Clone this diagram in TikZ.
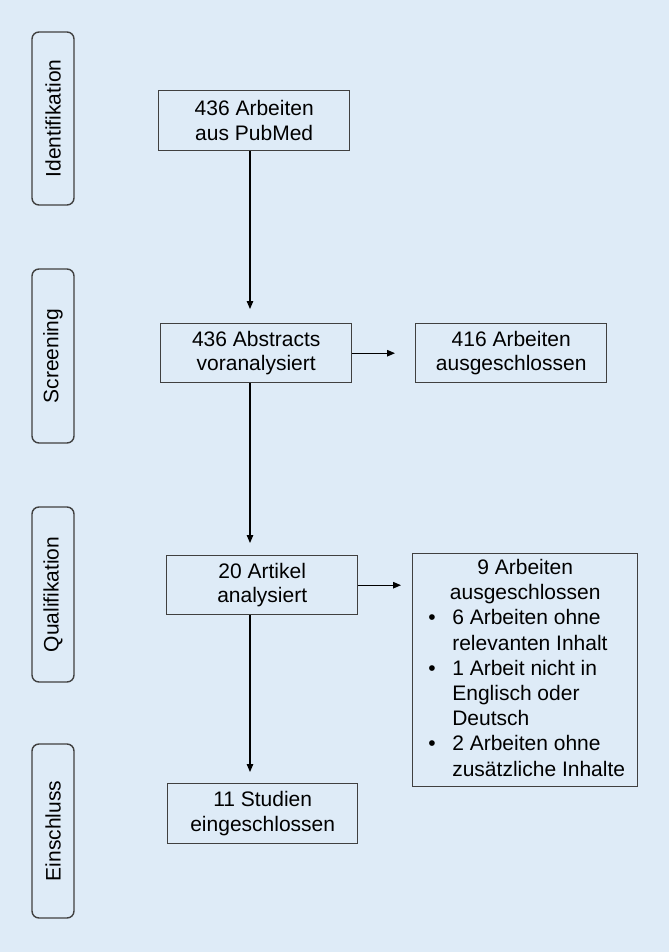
\documentclass[tikz,border=0pt]{standalone}
\usepackage{fontspec}
\setmainfont{Liberation Sans}
\usetikzlibrary{arrows.meta}
\definecolor{bgblue}{RGB}{222,235,247}
\definecolor{edgegrey}{RGB}{64,64,64}
\begin{document}
\begin{tikzpicture}[x=1pt,y=-1pt,
  every node/.style={font=\fontsize{21}{24.5}\selectfont},
  box/.style={draw=edgegrey, line width=1.4pt, align=center, inner sep=0pt, anchor=north west},
  sidebox/.style={draw=edgegrey, line width=1.4pt, rounded corners=7pt, inner sep=0pt, rotate=90,
    minimum height=42pt},
  arr/.style={line width=1.1pt, -{Triangle[length=8pt,width=6.5pt]}}]
\fill[bgblue] (0,0) rectangle (669,952);
\useasboundingbox (0,0) rectangle (669,952);
% side labels
\node[sidebox, minimum width=173pt] (s1) at (53,118.5) {Identifikation};
\node[sidebox, minimum width=174pt] (s2) at (53,356) {Screening};
\node[sidebox, minimum width=175pt] (s3) at (53,594.5) {Qualifikation};
\node[sidebox, minimum width=174pt] (s4) at (53,831) {Einschluss};
% main boxes
\node[box, minimum width=191pt, minimum height=60pt] (b1) at (158,90) {436 Arbeiten\\aus PubMed};
\node[box, minimum width=191pt, minimum height=59pt] (b2) at (160,323) {436 Abstracts\\voranalysiert};
\node[box, minimum width=191pt, minimum height=59pt] (bx1) at (415,323) {416 Arbeiten\\ausgeschlossen};
\node[box, minimum width=191pt, minimum height=59pt] (b3) at (166,555) {20 Artikel\\analysiert};
\node[box, minimum width=225pt, minimum height=233pt] (bx2) at (412,553) {%
  \renewcommand{\arraystretch}{1.03}%
  \begin{tabular}{@{}p{27pt}@{}l@{}}
  \multicolumn{2}{@{}c@{}}{9 Arbeiten}\\
  \multicolumn{2}{@{}c@{}}{ausgeschlossen}\\
  \hspace{3pt}•& 6 Arbeiten ohne\\
  & relevanten Inhalt\\
  \hspace{3pt}•& 1 Arbeit nicht in\\
  & Englisch oder\\
  & Deutsch\\
  \hspace{3pt}•& 2 Arbeiten ohne\\
  & zusätzliche Inhalte
  \end{tabular}};
\node[box, minimum width=190pt, minimum height=60pt] (b4) at (167,783) {11 Studien\\eingeschlossen};
% connectors
\coordinate (col) at (250,0);
\draw[arr, shorten >=14pt] (b1.south -| col) -- (b2.north -| col);
\draw[arr, shorten >=12pt] (b2.south -| col) -- (b3.north -| col);
\draw[arr, shorten >=11pt] (b3.south -| col) -- (b4.north -| col);
\draw[arr, shorten >=20pt] (b2.east) -- (bx1.west);
\draw[arr, shorten >=11pt] (b3.east) -- (bx2.west |- b3.east);
\end{tikzpicture}
\end{document}
